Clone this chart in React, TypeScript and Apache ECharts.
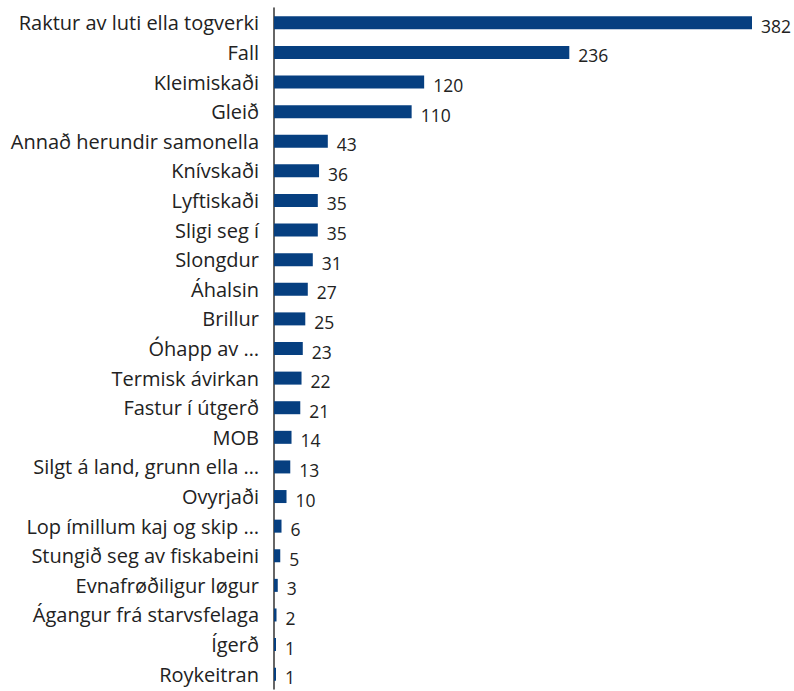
import React, { useEffect, useRef } from "react";
import * as echarts from "echarts";

const categories = [
  "Raktur av luti ella togverki",
  "Fall",
  "Kleimiskaði",
  "Gleið",
  "Annað herundir samonella",
  "Knívskaði",
  "Lyftiskaði",
  "Sligi seg í",
  "Slongdur",
  "Áhalsin",
  "Brillur",
  "Óhapp av …",
  "Termisk ávirkan",
  "Fastur í útgerð",
  "MOB",
  "Silgt á land, grunn ella …",
  "Ovyrjaði",
  "Lop ímillum kaj og skip …",
  "Stungið seg av fiskabeini",
  "Evnafrøðiligur løgur",
  "Ágangur frá starvsfelaga",
  "Ígerð",
  "Roykeitran",
];

const values = [382, 236, 120, 110, 43, 36, 35, 35, 31, 27, 25, 23, 22, 21, 14, 13, 10, 6, 5, 3, 2, 1, 1];

export default function App() {
  const ref = useRef<HTMLDivElement>(null);
  useEffect(() => {
    if (!ref.current) return;
    const chart = echarts.init(ref.current, undefined, { renderer: "svg" });
    chart.setOption({
      animation: false,
      textStyle: { fontFamily: "Open Sans" },
      grid: { left: 274, right: 42, top: 8, bottom: 2, containLabel: false },
      xAxis: {
        type: "value",
        min: 0,
        max: 382,
        show: false,
      },
      yAxis: {
        type: "category",
        data: categories,
        inverse: true,
        axisLine: { show: true, lineStyle: { color: "#333", width: 1.5 } },
        axisTick: { show: false },
        axisLabel: { color: "#222", fontSize: 20, margin: 15, fontFamily: "Open Sans" },
      },
      series: [
        {
          type: "bar",
          data: values,
          barWidth: 13,
          barMinHeight: 2,
          itemStyle: { color: "#063f80" },
          z: 3,
          label: {
            show: true,
            position: "right",
            distance: 9,
            color: "#222",
            fontSize: 17.5,
            fontFamily: "Open Sans",
            offset: [0, 3],
          },
        },
      ],
    });
    return () => chart.dispose();
  }, []);
  return (
    <div
      ref={ref}
      style={{ position: "fixed", left: 0, top: 0, width: 794, height: 691, background: "#fff" }}
    />
  );
}
